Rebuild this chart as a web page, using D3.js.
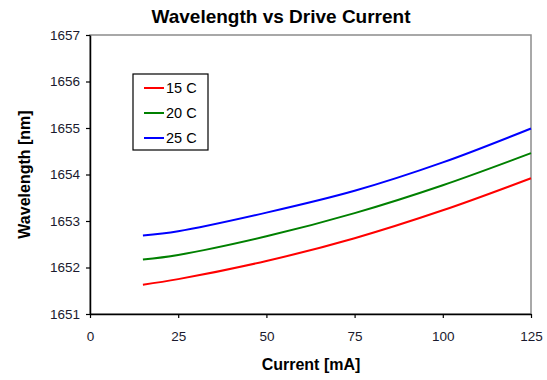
<!DOCTYPE html>
<html>
<head>
<meta charset="utf-8">
<script src="https://cdn.jsdelivr.net/npm/d3@7"></script>
<style>
  body { margin: 0; background: #fff; }
  svg { display: block; font-family: "Liberation Sans", Arial, sans-serif; }
</style>
</head>
<body>
<div id="chart"></div>
<script>
// Chart data
const currents = [15, 25, 50, 75, 100, 125];
const wl15 = [1651.63, 1651.75, 1652.14, 1652.63, 1653.23, 1653.92];
const wl20 = [1652.17, 1652.27, 1652.67, 1653.17, 1653.77, 1654.46];
const wl25 = [1652.69, 1652.78, 1653.18, 1653.65, 1654.26, 1654.99];
const seriesNames = ["15 C", "20 C", "25 C"];
const seriesColors = ["#ff0000", "#008000", "#0000ff"];
const xTicks = [0, 25, 50, 75, 100, 125];
const yTicks = [1651, 1652, 1653, 1654, 1655, 1656, 1657];

const W = 547, H = 380;
const margin = {top: 35, right: 16, bottom: 66, left: 90};

const svg = d3.select("#chart").append("svg")
    .attr("width", W)
    .attr("height", H);

const x = d3.scaleLinear().domain([0, 125]).range([margin.left, W - margin.right]);
const y = d3.scaleLinear().domain([1651, 1657]).range([H - margin.bottom, margin.top]);

// plot area border (gray top/right)
svg.append("rect")
    .attr("x", x(0)).attr("y", y(1657))
    .attr("width", x(125) - x(0)).attr("height", y(1651) - y(1657))
    .attr("fill", "none").attr("stroke", "#8c8c8c").attr("stroke-width", 1.5);

// axes
const xAxis = svg.append("g")
    .attr("transform", `translate(0,${y(1651)})`)
    .call(d3.axisBottom(x).tickValues(xTicks).tickSize(4).tickPadding(13).tickSizeOuter(0));
const yAxis = svg.append("g")
    .attr("transform", `translate(${x(0)},0)`)
    .call(d3.axisLeft(y).tickValues(yTicks).tickSize(4).tickPadding(6).tickSizeOuter(0).tickFormat(d3.format("d")));

[xAxis, yAxis].forEach(g => {
    g.select(".domain").attr("stroke", "#000").attr("stroke-width", 1.5);
    g.selectAll(".tick line").attr("stroke", "#000").attr("stroke-width", 1.2);
    g.selectAll(".tick text").attr("fill", "#1a1a2e").style("font-size", "13.5px");
});

// series
const series = [wl15, wl20, wl25].map((vals, i) => ({
    name: seriesNames[i],
    color: seriesColors[i],
    points: currents.map((c, j) => ({c: c, w: vals[j]}))
}));

const line = d3.line()
    .x(d => x(d.c))
    .y(d => y(d.w))
    .curve(d3.curveCatmullRom.alpha(0.5));

svg.selectAll(".series")
    .data(series)
    .join("path")
    .attr("class", "series")
    .attr("fill", "none")
    .attr("stroke", d => d.color)
    .attr("stroke-width", 2)
    .attr("d", d => line(d.points));

// title and axis labels
svg.append("text")
    .attr("x", 281).attr("y", 23)
    .attr("text-anchor", "middle")
    .style("font-size", "19px").style("font-weight", "bold")
    .text("Wavelength vs Drive Current");

svg.append("text")
    .attr("x", 311).attr("y", 370)
    .attr("text-anchor", "middle")
    .style("font-size", "16px").style("font-weight", "bold")
    .text("Current [mA]");

svg.append("text")
    .attr("transform", `translate(30,${(y(1651) + y(1657)) / 2}) rotate(-90)`)
    .attr("text-anchor", "middle")
    .style("font-size", "16px").style("font-weight", "bold")
    .text("Wavelength [nm]");

// legend
const legend = svg.append("g").attr("transform", "translate(133,74)");
legend.append("rect")
    .attr("width", 75).attr("height", 76)
    .attr("fill", "#fff").attr("stroke", "#000").attr("stroke-width", 1.2);

const items = legend.selectAll(".item")
    .data(series)
    .join("g")
    .attr("class", "item")
    .attr("transform", (d, i) => `translate(0,${14 + i * 25})`);

items.append("line")
    .attr("x1", 11).attr("x2", 31)
    .attr("stroke", d => d.color).attr("stroke-width", 2);

items.append("text")
    .attr("x", 33).attr("dy", "0.35em")
    .style("font-size", "14.5px")
    .text(d => d.name);
</script>
</body>
</html>
